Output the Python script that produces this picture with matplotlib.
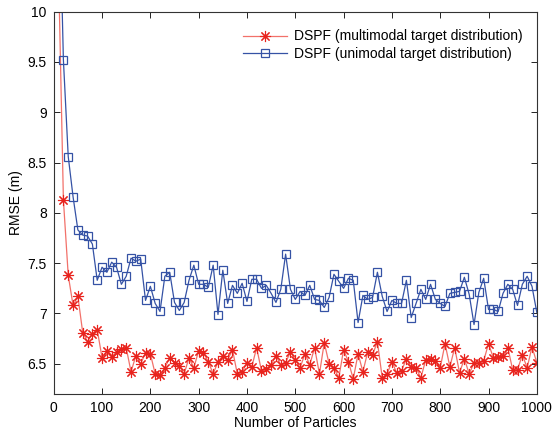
import matplotlib
matplotlib.use("Agg")
import matplotlib.pyplot as plt
import numpy as np

plt.rcParams['font.family'] = ['Liberation Sans', 'DejaVu Sans']

particles = list(range(10, 1001, 10))

rmse_multimodal = [
    10.4, 8.13, 7.38, 7.08, 7.17, 6.81, 6.72, 6.80, 6.84, 6.56,
    6.63, 6.57, 6.62, 6.65, 6.66, 6.42, 6.58, 6.50, 6.61, 6.60,
    6.40, 6.39, 6.46, 6.56, 6.51, 6.48, 6.40, 6.56, 6.46, 6.63,
    6.61, 6.52, 6.40, 6.52, 6.58, 6.54, 6.64, 6.40, 6.42, 6.51,
    6.47, 6.66, 6.43, 6.45, 6.49, 6.58, 6.49, 6.51, 6.62, 6.54,
    6.46, 6.60, 6.49, 6.66, 6.40, 6.71, 6.50, 6.46, 6.36, 6.64,
    6.52, 6.35, 6.60, 6.42, 6.62, 6.59, 6.72, 6.36, 6.40, 6.52,
    6.41, 6.43, 6.55, 6.47, 6.46, 6.36, 6.54, 6.55, 6.53, 6.46,
    6.70, 6.47, 6.66, 6.41, 6.55, 6.40, 6.51, 6.51, 6.53, 6.70,
    6.56, 6.57, 6.58, 6.66, 6.44, 6.44, 6.59, 6.46, 6.67, 6.51,
]

rmse_unimodal = [
    11.5, 9.52, 8.56, 8.16, 7.83, 7.78, 7.77, 7.69, 7.33, 7.46,
    7.41, 7.51, 7.46, 7.29, 7.37, 7.55, 7.52, 7.54, 7.13, 7.27,
    7.10, 7.02, 7.37, 7.41, 7.11, 7.03, 7.11, 7.33, 7.48, 7.29,
    7.29, 7.26, 7.48, 6.99, 7.43, 7.10, 7.28, 7.20, 7.30, 7.12,
    7.34, 7.34, 7.25, 7.28, 7.20, 7.11, 7.24, 7.59, 7.24, 7.14,
    7.22, 7.18, 7.28, 7.14, 7.13, 7.06, 7.16, 7.39, 7.32, 7.25,
    7.35, 7.33, 6.91, 7.18, 7.14, 7.16, 7.41, 7.17, 7.02, 7.13,
    7.10, 7.10, 7.33, 6.96, 7.10, 7.24, 7.14, 7.29, 7.14, 7.10,
    7.07, 7.20, 7.21, 7.22, 7.36, 7.19, 6.89, 7.21, 7.35, 7.04,
    7.04, 7.02, 7.20, 7.29, 7.24, 7.08, 7.29, 7.37, 7.27, 7.01,
]

labels = ['DSPF (multimodal target distribution)',
          'DSPF (unimodal target distribution)']
xticks = list(range(0, 1001, 100))
yticks = [6.5, 7, 7.5, 8, 8.5, 9, 9.5, 10]
ytick_labels = ['6.5', '7', '7.5', '8', '8.5', '9', '9.5', '10']

fig = plt.figure(figsize=(5.54, 4.32), dpi=100)
ax = fig.add_axes([0.097, 0.088, 0.872, 0.885])

ax.plot(particles, rmse_multimodal, color='#f2716a', lw=0.9,
        marker=(8, 2, 0), markersize=8, markeredgecolor='#e8231d',
        markerfacecolor='#e8231d', markeredgewidth=0.8, label=labels[0])
ax.plot(particles, rmse_unimodal, color='#3552a5', lw=0.9,
        marker='s', markersize=6, markeredgecolor='#3552a5',
        markerfacecolor='none', markeredgewidth=0.9, label=labels[1])

ax.set_xlim(0, 1000)
ax.set_ylim(6.2, 10)
ax.set_xticks(xticks)
ax.set_yticks(yticks)
ax.set_yticklabels(ytick_labels)
ax.tick_params(direction='in', top=True, right=True, length=4,
               labelsize=10, width=0.6, pad=5)
for s in ax.spines.values():
    s.set_linewidth(0.8)
    s.set_color('#333333')

ax.set_xlabel('Number of Particles', fontsize=10, labelpad=1)
ax.set_ylabel('RMSE (m)', fontsize=10)
ax.yaxis.set_label_coords(-0.064, 0.5)

ax.legend(loc='upper right', frameon=False, fontsize=10,
          handlelength=3.2, borderaxespad=0.6, labelspacing=0.25,
          handletextpad=0.5, bbox_to_anchor=(1.0, 0.99))

fig.savefig('out.png', dpi=100)
